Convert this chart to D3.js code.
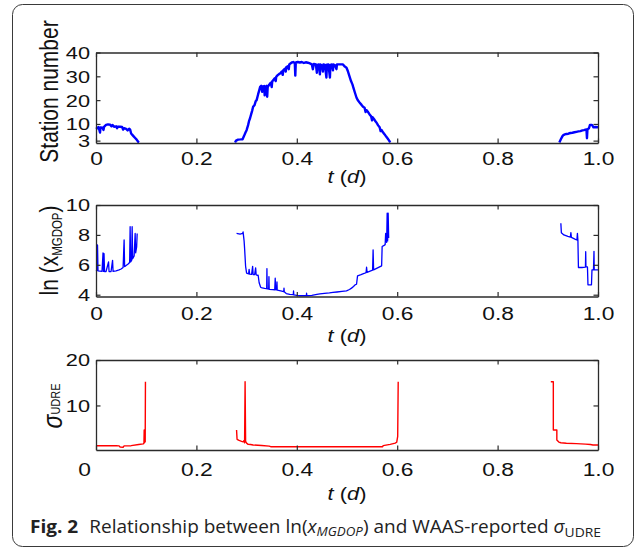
<!DOCTYPE html>
<html>
<head>
<meta charset="utf-8">
<script src="https://d3js.org/d3.v7.min.js"></script>
<style>
  html, body { margin: 0; padding: 0; background: #fff; }
  svg { display: block; }
</style>
</head>
<body>
<svg id="fig" width="635" height="550"></svg>
<script>
// ---- data: time in days, value ----
const tTicks = [0, 0.2, 0.4, 0.6, 0.8, 1.0];
const tTickLabels = ["0", "0.2", "0.4", "0.6", "0.8", "1.0"];
const stationTicks = [3, 10, 20, 30, 40];
const mgdopTicks = [4, 6, 8, 10];
const udreTicks = [10, 20];

// number of reference stations in view
const stationPass1 = [[0,8.6],[0.003,8.2],[0.005,8.7],[0.008,6.4],[0.009,8.5],[0.013,8.4],[0.015,7.5],[0.016,8.8],[0.02,9.6],[0.024,9.8],[0.028,9.7],[0.031,9.0],[0.033,9.6],[0.036,8.8],[0.04,9.0],[0.042,8.2],[0.044,8.9],[0.048,8.8],[0.052,8.7],[0.054,7.6],[0.056,8.2],[0.06,7.9],[0.063,7.3],[0.066,8.0],[0.068,7.6],[0.07,6.0],[0.072,5.5],[0.075,4.8],[0.078,4.1],[0.081,3.4],[0.084,2.5],[0.086,2.3]];
const stationPass2 = [[0.277,2.2],[0.279,3.0],[0.283,3.4],[0.288,3.5],[0.292,3.6],[0.295,5.0],[0.298,6.5],[0.300,7.4],[0.303,9.5],[0.305,11.3],[0.307,12.5],[0.309,14.0],[0.311,15.5],[0.313,17.2],[0.316,18.0],[0.318,19.5],[0.320,20.0],[0.323,22.5],[0.325,24.0],[0.327,25.6],[0.329,26.0],[0.331,23.5],[0.332,25.8],[0.335,25.9],[0.336,22.0],[0.337,25.5],[0.340,26.0],[0.341,21.4],[0.342,25.4],[0.345,26.5],[0.348,27.3],[0.350,25.5],[0.351,27.8],[0.353,28.4],[0.356,29.2],[0.358,28.0],[0.359,29.8],[0.362,30.5],[0.365,31.0],[0.367,31.2],[0.370,32.0],[0.372,30.6],[0.373,32.5],[0.376,33.2],[0.378,32.0],[0.379,33.8],[0.382,34.2],[0.384,33.0],[0.385,35.0],[0.388,35.5],[0.390,35.8],[0.393,36.0],[0.396,35.6],[0.397,30.3],[0.398,35.8],[0.402,36.0],[0.406,35.8],[0.410,36.0],[0.414,35.6],[0.418,35.9],[0.422,35.7],[0.426,35.4],[0.430,35.0],[0.432,33.0],[0.434,35.2],[0.438,35.0],[0.440,31.5],[0.441,34.8],[0.444,35.0],[0.446,30.8],[0.447,35.0],[0.450,34.5],[0.452,32.0],[0.453,35.0],[0.456,34.8],[0.459,29.5],[0.460,34.9],[0.463,35.0],[0.466,29.5],[0.467,34.8],[0.470,35.0],[0.472,32.5],[0.473,35.0],[0.476,34.6],[0.479,33.0],[0.480,35.0],[0.484,35.0],[0.488,35.0],[0.492,35.0],[0.495,34.2],[0.499,33.6],[0.502,32.0],[0.505,30.0],[0.508,28.0],[0.511,26.5],[0.513,25.0],[0.516,23.0],[0.519,21.0],[0.522,19.8],[0.525,19.0],[0.529,18.0],[0.532,17.2],[0.535,16.8],[0.537,15.0],[0.539,15.8],[0.542,15.0],[0.545,14.0],[0.548,13.2],[0.550,11.5],[0.551,12.8],[0.554,12.0],[0.557,11.0],[0.559,10.5],[0.562,9.4],[0.565,8.6],[0.567,7.0],[0.569,7.4],[0.572,6.4],[0.575,5.6],[0.578,4.7],[0.581,3.9],[0.584,3.0],[0.586,2.2]];
const stationPass3 = [[0.923,2.2],[0.926,3.6],[0.929,4.8],[0.931,5.3],[0.934,5.6],[0.937,5.8],[0.941,5.9],[0.945,6.2],[0.949,6.3],[0.953,6.5],[0.957,6.7],[0.961,6.9],[0.965,7.0],[0.969,7.3],[0.972,7.4],[0.975,7.6],[0.977,7.7],[0.978,4.0],[0.979,7.7],[0.982,8.2],[0.984,9.6],[0.988,9.6],[0.991,8.6],[0.995,8.7],[1.0,8.6]];

// ln of the MGDOP metric
const mgdopPass1 = [[0,5.66],[0.002,5.62],[0.003,7.33],[0.004,5.6],[0.008,5.58],[0.012,5.56],[0.014,6.8],[0.015,5.56],[0.016,6.75],[0.017,5.55],[0.020,5.55],[0.025,6.2],[0.026,5.55],[0.030,5.55],[0.033,6.3],[0.034,5.56],[0.040,5.6],[0.046,5.66],[0.050,5.72],[0.054,5.82],[0.056,7.66],[0.057,5.88],[0.060,5.95],[0.064,6.05],[0.067,6.15],[0.068,8.55],[0.069,6.2],[0.071,6.3],[0.072,8.55],[0.073,6.4],[0.076,6.6],[0.078,8.1],[0.079,6.8],[0.081,7.2],[0.082,8.1]];
const mgdopPass2 = [[0.280,8.1],[0.287,8.05],[0.292,8.1],[0.293,8.2],[0.295,7.6],[0.296,7.1],[0.298,5.9],[0.300,5.44],[0.304,5.4],[0.305,5.7],[0.306,5.38],[0.310,5.36],[0.312,5.9],[0.313,5.35],[0.316,5.34],[0.318,5.8],[0.319,5.33],[0.322,5.3],[0.323,5.3],[0.325,4.8],[0.328,4.5],[0.331,4.45],[0.336,4.42],[0.340,4.4],[0.3405,5.75],[0.341,4.4],[0.344,4.38],[0.3445,5.2],[0.345,4.36],[0.352,4.34],[0.356,4.33],[0.357,5.1],[0.358,4.33],[0.360,4.32],[0.3605,4.85],[0.361,4.31],[0.368,4.26],[0.374,4.2],[0.3745,4.44],[0.375,4.19],[0.379,4.08],[0.386,4.02],[0.393,4.0],[0.3935,4.25],[0.394,3.99],[0.40,3.95],[0.406,3.93],[0.419,3.93],[0.4195,4.1],[0.42,3.93],[0.43,3.95],[0.44,4.02],[0.446,4.06],[0.455,4.09],[0.465,4.12],[0.472,4.15],[0.48,4.18],[0.49,4.22],[0.499,4.26],[0.505,4.35],[0.509,4.44],[0.513,4.55],[0.516,4.66],[0.519,4.7],[0.521,5.26],[0.528,5.34],[0.534,5.42],[0.538,5.48],[0.539,5.84],[0.540,5.5],[0.546,5.58],[0.551,5.64],[0.552,7.0],[0.553,5.66],[0.560,5.78],[0.566,5.88],[0.569,5.93],[0.570,7.22],[0.573,7.28],[0.576,7.35],[0.577,8.1],[0.579,7.5],[0.580,9.45],[0.581,7.6],[0.582,9.45],[0.583,7.8]];
const mgdopPass3 = [[0.926,8.78],[0.927,8.15],[0.932,8.0],[0.936,7.95],[0.940,7.9],[0.945,7.85],[0.946,8.15],[0.947,7.83],[0.952,7.75],[0.955,7.7],[0.958,7.66],[0.959,8.1],[0.960,7.62],[0.961,5.82],[0.968,5.82],[0.975,5.85],[0.9755,6.88],[0.976,5.86],[0.979,5.86],[0.980,4.66],[0.987,4.66],[0.988,5.66],[0.991,5.66],[0.992,6.9],[0.9925,5.66],[1.0,5.66]];

// WAAS-reported sigma UDRE
const udrePass1 = [[0,1.15],[0.02,1.15],[0.04,1.15],[0.046,1.1],[0.048,0.85],[0.054,0.8],[0.056,1.1],[0.07,1.15],[0.085,1.4],[0.094,1.55],[0.0955,1.67],[0.096,4.6],[0.097,1.9],[0.098,2.0],[0.0985,15.2]];
const udrePass2 = [[0.280,4.6],[0.281,2.55],[0.285,2.3],[0.29,2.1],[0.293,2.0],[0.295,2.3],[0.296,1.8],[0.297,15.2],[0.298,2.1],[0.300,1.7],[0.303,1.45],[0.308,1.4],[0.313,1.3],[0.33,1.2],[0.345,1.05],[0.348,0.93],[0.40,0.93],[0.45,0.93],[0.50,0.93],[0.55,0.93],[0.571,0.93],[0.572,1.15],[0.586,1.45],[0.596,1.7],[0.599,1.9],[0.601,3.2],[0.602,15.2]];
const udrePass3 = [[0.906,15.2],[0.911,15.2],[0.911,4.6],[0.918,4.6],[0.918,2.4],[0.922,1.95],[0.926,1.8],[0.937,1.67],[0.957,1.6],[0.975,1.5],[0.985,1.4],[0.99,1.3],[1.0,1.3]];

// ---- drawing ----
const svg = d3.select("#fig");
const FONT = "'Liberation Sans', Arial, Helvetica, sans-serif";
const AXIS = "#2b2b2b";

// rounded frame around the figure
svg.append("rect")
  .attr("x", 12.5).attr("y", 4.5).attr("width", 621).attr("height", 542)
  .attr("rx", 10).attr("ry", 10)
  .attr("fill", "none").attr("stroke", "#3a3a3a").attr("stroke-width", 1);

const x = d3.scaleLinear().domain([0, 1]).range([96, 598]);

const panels = [
  { ticks: stationTicks, domain: [2, 40], range: [143, 52.5], series: [stationPass1, stationPass2, stationPass3],
    color: "#0000ff", width: 2.4, tickLabelDy: 22, titleDy: 40, zeroShift: 0 },
  { ticks: mgdopTicks, domain: [3.88, 10], range: [296.5, 205], series: [mgdopPass1, mgdopPass2, mgdopPass3],
    color: "#0000ff", width: 1.3, tickLabelDy: 23.5, titleDy: 45.5, zeroShift: 0 },
  { ticks: udreTicks, domain: [0.2, 20], range: [450, 360], series: [udrePass1, udrePass2, udrePass3],
    color: "#ff0000", width: 1.4, tickLabelDy: 26, titleDy: 49.5, zeroShift: -12 }
];

panels.forEach((p, i) => {
  const y = d3.scaleLinear().domain(p.domain).range(p.range);
  const g = svg.append("g");
  const [yb, yt] = p.range;

  // data lines
  const line = d3.line().x(d => x(d[0])).y(d => y(d[1]));
  g.selectAll("path.series").data(p.series).join("path")
    .attr("class", "series")
    .attr("d", line)
    .attr("fill", "none")
    .attr("stroke", p.color)
    .attr("stroke-width", p.width)
    .attr("stroke-linejoin", "round");

  // box axes with inward ticks
  const style = sel => {
    sel.select(".domain").attr("stroke", AXIS).attr("stroke-width", 1.3);
    sel.selectAll(".tick line").attr("stroke", AXIS).attr("stroke-width", 1.2);
  };
  const bottom = g.append("g").attr("transform", `translate(0,${yb})`)
    .call(d3.axisBottom(x).tickValues(tTicks).tickSizeInner(-4.5).tickSizeOuter(0)
      .tickFormat((d, k) => tTickLabels[k]));
  style(bottom);
  bottom.selectAll(".tick text")
    .attr("y", null).attr("dy", null)
    .attr("transform", (d, k) => `translate(${k === 0 ? p.zeroShift : 0},${p.tickLabelDy}) scale(1.2,1)`)
    .attr("fill", "#111").style("font-family", FONT).style("font-size", "19px");

  const top = g.append("g").attr("transform", `translate(0,${yt})`)
    .call(d3.axisTop(x).tickValues(tTicks).tickSizeInner(-4.5).tickSizeOuter(0).tickFormat(""));
  style(top);

  const left = g.append("g").attr("transform", `translate(${x(0)},0)`)
    .call(d3.axisLeft(y).tickValues(p.ticks).tickSizeInner(-4.5).tickSizeOuter(0)
      .tickFormat(d3.format("d")));
  style(left);
  left.selectAll(".tick text")
    .attr("x", null).attr("dy", "0.36em")
    .attr("transform", "translate(-6,0) scale(1.32,1)")
    .attr("fill", "#111").style("font-family", FONT).style("font-size", "16.5px");

  const right = g.append("g").attr("transform", `translate(${x(1)},0)`)
    .call(d3.axisRight(y).tickValues(p.ticks).tickSizeInner(-4.5).tickSizeOuter(0).tickFormat(""));
  style(right);

  // time axis title: t (d)
  const tt = g.append("text")
    .attr("transform", `translate(${(x(0) + x(1)) / 2},${yb + p.titleDy}) scale(1.15,1)`)
    .attr("text-anchor", "middle").attr("fill", "#111")
    .style("font-family", FONT).style("font-size", "19px");
  tt.append("tspan").attr("font-style", "italic").text("t");
  tt.append("tspan").text(" (");
  tt.append("tspan").attr("font-style", "italic").text("d");
  tt.append("tspan").text(")");
});

// vertical axis titles
const yTitle = (cx, cy) => svg.append("text")
  .attr("transform", `translate(${cx},${cy}) scale(1.2,1) rotate(-90)`)
  .attr("text-anchor", "middle").attr("fill", "#111")
  .style("font-family", FONT).style("font-size", "21px");

yTitle(58, 91.5).text("Station number");

const t2 = yTitle(57.5, 250.5);
t2.append("tspan").text("ln (x");
t2.append("tspan").attr("dy", 3.5).style("font-size", "11.5px").text("MGDOP");
t2.append("tspan").attr("dy", -3.5).text(")");

const t3 = yTitle(61.5, 406);
t3.append("tspan").attr("font-style", "italic").style("font-size", "23px").text("σ");
t3.append("tspan").attr("dy", -1.5).style("font-size", "11px").text("UDRE");

// caption
const CAP = "'Open Sans', 'Noto Sans', sans-serif";
const cap = svg.append("text")
  .attr("x", 0).attr("y", 0)
  .attr("fill", "#222")
  .style("font-family", CAP).style("font-size", "18.5px");
cap.append("tspan").attr("font-weight", "bold").text("Fig. 2");
cap.append("tspan").attr("dx", 6).text("\u00a0Relationship between ln(");
cap.append("tspan").attr("font-style", "italic").text("x");
cap.append("tspan").attr("font-style", "italic").attr("dy", 3).style("font-size", "13px").text("MGDOP");
cap.append("tspan").attr("dy", -3).text(") and WAAS-reported ");
cap.append("tspan").attr("font-style", "italic").text("σ");
cap.append("tspan").attr("dy", 3.5).style("font-size", "13.5px").text("UDRE");
const capLen = cap.node().getComputedTextLength();
const capScale = 565 / capLen;
cap.attr("transform", `translate(30,533) scale(${capScale},1)`);
</script>
</body>
</html>
